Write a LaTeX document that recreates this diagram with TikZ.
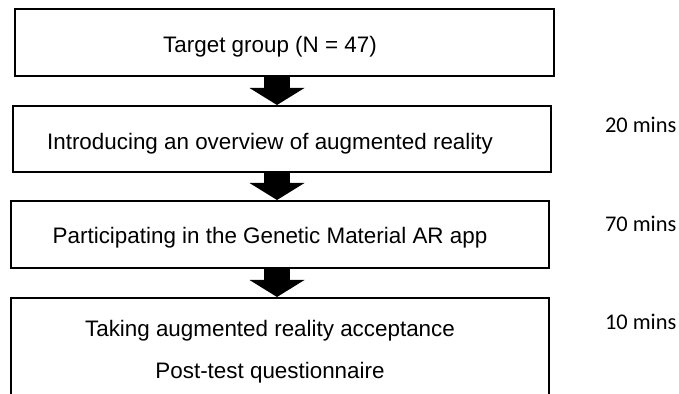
\documentclass[tikz,border=0pt]{standalone}
\usepackage{fontspec}
\setmainfont{Liberation Sans}
\newfontfamily\minsfont{Carlito}
\usepackage{tikz}
\usetikzlibrary{arrows.meta}

\begin{document}
\begin{tikzpicture}[
	x=0.5pt, y=-0.5pt,
	line width=1pt,
	font=\fontsize{11.2}{13.4}\selectfont
]
\tikzset{
    stagebox/.style = {rectangle, draw=black, inner sep=0pt, minimum width=269pt},
    stagetext/.style = {anchor=base, inner sep=0pt},
    timenote/.style = {anchor=base west, inner sep=0pt, font=\minsfont\fontsize{11.2}{13.4}\selectfont},
    flowarrow/.style = {line width=13pt, -{Triangle[width=27.5pt,length=8.5pt,line width=0pt]}},
}
\useasboundingbox (0,0) rectangle (679,394);
\coordinate (axis) at (277,0);
% boxes
\node[stagebox,minimum width=269.5pt,minimum height=33.5pt] (target) at (284.5,42.5) {};
\node[stagebox,minimum height=33pt] (intro) at (282,139) {};
\node[stagebox,minimum height=33.5pt] (app) at (280,234.5) {};
\node[stagebox,minimum height=52pt] (survey) at (280,350) {};
% texts
\node[stagetext] (targettxt) at (270,53) {Target group (N = 47)};
\node[stagetext] (introtxt) at (270,150) {Introducing an overview of augmented reality};
\node[stagetext] (apptxt) at (270,244) {Participating in the Genetic Material AR app};
\node[stagetext] (surveytxta) at (270,337) {Taking augmented reality acceptance};
\node[stagetext] (surveytxtb) at (270,379) {Post-test questionnaire};
% durations
\node[timenote] (introtime) at (604,133) {20 mins};
\node[timenote] (apptime) at (604,232) {70 mins};
\node[timenote] (surveytime) at (604,330) {10 mins};
% arrows
\draw[flowarrow] (axis |- target.south) -- (axis |- intro.north);
\draw[flowarrow] (axis |- intro.south) -- (axis |- app.north);
\draw[flowarrow] (axis |- app.south) -- (axis |- survey.north);
\end{tikzpicture}
\end{document}
